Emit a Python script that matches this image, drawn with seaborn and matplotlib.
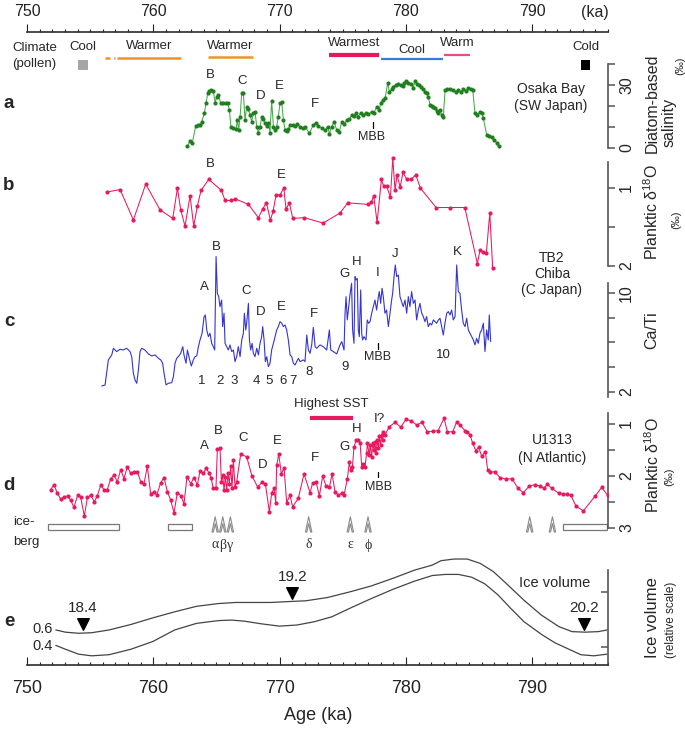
import numpy as np
import seaborn as sns
import matplotlib.pyplot as plt
from matplotlib.path import Path
from matplotlib.patches import Rectangle
from matplotlib.transforms import blended_transform_factory

sns.set_theme(style="white")
plt.rcParams['font.family'] = ['Liberation Sans', 'DejaVu Sans']
plt.rcParams['mathtext.default'] = 'regular'

# ---------------- data (ages in ka) ----------------
# climate from pollen
bar_names = ["Warmer", "Warmer", "Warmest", "Cool", "Warm"]
bar_start = [757.1, 764.3, 773.9, 778.0, 783.0]
bar_end = [762.2, 767.9, 777.9, 782.9, 785.1]
box_names = ["Cool", "Cold"]
box_start = [754.0, 793.9]
box_end = [754.8, 794.6]
lead_start, lead_end = 756.2, 757.0

# a: Osaka Bay diatom-based salinity (permil)
osaka_age = [762.70, 762.91, 763.09, 763.36, 763.57, 763.70, 763.83, 764.04, 764.17, 764.31,
             764.44, 764.57, 764.75, 764.89, 765.02, 765.15, 765.33, 765.55, 765.76, 765.89,
             766.02, 766.15, 766.34, 766.55, 766.65, 766.76, 766.87, 767.00, 767.13, 767.26,
             767.39, 767.53, 767.66, 767.79, 767.92, 768.05, 768.19, 768.32, 768.45, 768.58,
             768.71, 768.85, 768.98, 769.11, 769.24, 769.37, 769.51, 769.64, 769.77, 769.90,
             770.03, 770.16, 770.30, 770.43, 770.56, 770.69, 770.82, 771.04, 771.22, 771.41,
             771.62, 771.88, 772.01, 772.36, 772.67, 772.86, 773.07, 773.33, 773.60, 773.81,
             773.94, 774.12, 774.31, 774.52, 774.73, 774.92, 775.13, 775.31, 775.52, 775.71,
             775.89, 776.05, 776.23, 776.42, 776.63, 776.84, 777.03, 777.29, 777.48, 777.69,
             777.90, 778.00, 778.16, 778.35, 778.56, 778.69, 778.87, 779.01, 779.19, 779.40,
             779.59, 779.74, 779.88, 780.01, 780.19, 780.38, 780.59, 780.72, 780.85, 781.01,
             781.17, 781.33, 781.51, 781.65, 781.78, 781.91, 782.04, 782.17, 782.31, 782.44,
             782.57, 782.70, 782.83, 782.96, 783.10, 783.28, 783.49, 783.76, 783.97, 784.15,
             784.34, 784.55, 784.76, 784.94, 785.13, 785.29, 785.47, 785.66, 785.87, 786.03,
             786.13, 786.40, 786.61, 786.79, 786.98, 787.19, 787.35]
osaka_sal = [0.9, 3.3, 2.5, 10.6, 10.8, 10.9, 12.5, 16.5, 21.3, 26.0,
             27.3, 27.6, 27.3, 21.6, 24.4, 25.2, 21.6, 21.6, 21.6, 21.3,
             18.1, 10.2, 9.4, 8.9, 13.3, 8.6, 14.9, 26.0, 26.3, 13.3,
             19.7, 18.4, 15.7, 12.5, 16.5, 17.3, 10.2, 7.3, 10.2, 14.6,
             13.6, 11.7, 10.5, 11.7, 7.3, 22.5, 10.2, 8.6, 10.2, 14.9,
             21.3, 22.1, 13.3, 8.6, 8.2, 8.9, 11.0, 11.0, 10.5, 11.4,
             10.2, 9.4, 10.2, 7.0, 11.0, 12.1, 10.5, 9.4, 8.6, 10.2,
             6.7, 10.2, 12.5, 8.6, 7.8, 12.5, 11.4, 13.3, 13.6, 15.7,
             15.2, 16.5, 14.9, 16.8, 15.7, 16.5, 16.2, 17.3, 16.8, 19.7,
             18.1, 21.3, 22.9, 23.6, 31.1, 26.8, 27.9, 29.2, 30.0, 30.5,
             30.0, 29.7, 30.8, 32.1, 31.1, 30.5, 28.4, 32.1, 30.5, 30.0,
             29.2, 27.9, 26.8, 26.0, 24.4, 20.5, 20.0, 19.7, 18.9, 17.8,
             16.5, 18.1, 15.7, 14.6, 27.6, 27.9, 27.9, 27.6, 26.8, 27.6,
             26.5, 27.9, 27.3, 28.4, 27.9, 27.6, 16.5, 15.7, 17.3, 16.5,
             14.1, 6.2, 5.7, 5.1, 3.8, 2.5, 0.9]

# b: Osaka Bay planktic d18O (permil)
osb_age = [756.36, 757.37, 758.42, 759.40, 760.53, 761.54, 761.91, 762.17, 762.51, 762.91,
           763.20, 763.49, 763.78, 764.39, 765.39, 765.68, 766.16, 766.50, 767.53, 768.32,
           768.66, 768.95, 769.27, 769.48, 769.72, 770.03, 770.33, 770.51, 770.77, 771.04,
           771.96, 773.44, 774.79, 775.39, 777.00, 777.27, 777.45, 777.72, 778.06, 778.24,
           778.48, 778.77, 778.96, 779.14, 779.30, 779.54, 779.77, 780.06, 780.41, 780.78,
           781.14, 782.39, 783.52, 784.66, 785.66, 785.87, 786.13, 786.37, 786.64, 786.87]
osb_d18o = [1.05, 1.02, 1.41, 0.95, 1.28, 1.39, 1.00, 1.28, 1.49, 1.10,
            1.49, 1.23, 1.03, 0.89, 1.03, 1.16, 1.16, 1.14, 1.21, 1.38,
            1.27, 1.19, 1.41, 1.30, 1.09, 1.09, 1.00, 1.27, 1.19, 1.39,
            1.38, 1.45, 1.32, 1.19, 1.21, 1.18, 1.10, 1.44, 0.89, 0.98,
            0.98, 1.12, 0.62, 1.03, 0.83, 0.99, 0.80, 0.89, 0.89, 0.83,
            1.00, 1.25, 1.25, 1.25, 1.97, 1.79, 1.82, 1.83, 1.32, 2.03]

# c: TB2 Chiba Ca/Ti
chiba_age = [755.91, 756.18, 756.44, 756.71, 756.84, 757.10, 757.37, 757.63, 757.89, 758.16,
             758.29, 758.42, 758.55, 758.69, 758.82, 758.95, 759.08, 759.34, 759.61, 759.87,
             760.14, 760.40, 760.59, 760.74, 760.85, 761.01, 761.19, 761.46, 761.59, 761.72,
             761.85, 761.98, 762.17, 762.33, 762.43, 762.59, 762.70, 762.85, 763.01, 763.17,
             763.30, 763.44, 763.57, 763.70, 763.86, 764.02, 764.12, 764.23, 764.36, 764.49,
             764.62, 764.75, 764.86, 764.97, 765.07, 765.18, 765.28, 765.41, 765.49, 765.60,
             765.68, 765.81, 765.94, 766.07, 766.21, 766.34, 766.47, 766.60, 766.73, 766.87,
             767.00, 767.13, 767.21, 767.32, 767.39, 767.53, 767.61, 767.71, 767.82, 767.92,
             768.05, 768.19, 768.32, 768.45, 768.58, 768.66, 768.77, 768.87, 768.98, 769.11,
             769.24, 769.37, 769.51, 769.64, 769.77, 769.90, 770.03, 770.17, 770.30, 770.43,
             770.56, 770.69, 770.83, 770.96, 771.09, 771.22, 771.35, 771.49, 771.62, 771.88,
             772.01, 772.15, 772.28, 772.41, 772.54, 772.67, 772.81, 772.94, 773.20, 773.46,
             773.73, 773.94, 774.05, 774.26, 774.52, 774.78, 774.92, 775.10,
             775.18, 775.26, 775.36, 775.44, 775.57, 775.70, 775.78, 775.89, 775.97, 776.05,
             776.15, 776.23, 776.31, 776.42, 776.50, 776.57, 776.68, 776.84, 776.94, 777.05,
             777.16, 777.29, 777.42, 777.55, 777.68, 777.82, 777.89, 778.00, 778.11, 778.21,
             778.34, 778.47, 778.61, 778.74, 778.87, 778.95, 779.06, 779.16, 779.27, 779.40,
             779.53, 779.66, 779.79, 779.93, 780.06, 780.19, 780.32, 780.45, 780.59, 780.72,
             780.85, 780.98, 781.11, 781.25, 781.38, 781.51, 781.64, 781.77, 781.91, 782.04,
             782.17, 782.30, 782.43, 782.57, 782.70, 782.83, 782.96, 783.09, 783.23, 783.36,
             783.49, 783.62, 783.75, 783.89, 784.02, 784.15, 784.28, 784.41, 784.54, 784.68,
             784.81, 784.94, 785.07, 785.21, 785.34, 785.47, 785.60, 785.73, 785.86, 786.00,
             786.13, 786.26, 786.39, 786.52, 786.60, 786.71]
chiba_cati = [2.48, 2.56, 4.59, 4.99, 5.53, 5.26, 5.45, 5.39, 5.53, 5.26,
              4.85, 3.51, 2.97, 2.70, 3.78, 5.26, 5.53, 5.39, 5.07, 4.91,
              4.99, 4.72, 4.59, 4.32, 3.51, 2.57, 2.70, 2.75, 3.24, 4.32,
              4.72, 4.85, 5.12, 5.66, 4.99, 4.32, 5.39, 4.72, 4.10, 4.59,
              4.85, 4.91, 5.66, 6.20, 6.74, 8.09, 8.22, 7.01, 6.47, 6.74,
              5.93, 5.66, 5.39, 12.94, 9.97, 9.70, 8.89, 9.43, 7.28, 8.36,
              5.93, 5.66, 5.39, 5.80, 5.26, 5.39, 4.45, 4.85, 5.66, 4.85,
              6.20, 6.74, 8.36, 7.01, 7.55, 9.16, 6.20, 5.39, 5.93, 5.12,
              4.85, 5.53, 4.99, 5.93, 6.47, 7.28, 6.20, 4.45, 4.85, 4.05,
              4.32, 5.39, 5.93, 6.47, 7.01, 7.28, 7.68, 7.55, 7.28, 7.41,
              7.01, 6.20, 4.99, 4.85, 4.32, 4.18, 4.45, 4.72, 4.45, 4.59,
              4.45, 6.60, 5.39, 5.12, 5.80, 7.22, 5.66, 5.53, 5.80, 5.66,
              5.39, 7.01, 5.39, 5.26, 5.07, 5.80, 6.07, 5.39,
              8.36, 9.70, 7.82, 8.62, 9.84, 10.78, 7.01, 5.93, 11.32, 11.05,
              11.18, 7.01, 6.47, 10.24, 6.74, 6.20, 6.47, 6.20, 7.82, 7.55,
              7.68, 8.36, 8.89, 9.43, 8.62, 9.70, 10.11, 9.16, 10.38, 9.70,
              8.36, 8.62, 7.28, 8.36, 9.43, 9.97, 11.32, 12.26, 11.32, 11.45,
              9.70, 9.30, 8.89, 9.43, 8.36, 9.70, 8.89, 10.11, 9.16, 9.43,
              7.82, 8.62, 9.16, 8.36, 8.09, 7.68, 8.09, 7.28, 7.55, 7.41,
              7.82, 7.68, 7.55, 7.82, 7.95, 7.28, 6.60, 7.55, 8.36, 8.49,
              8.22, 8.62, 7.82, 8.09, 12.26, 10.11, 9.97, 8.62, 7.55, 7.28,
              7.95, 7.01, 6.74, 6.47, 6.20, 5.80, 6.33, 5.93, 6.74, 7.01,
              7.55, 5.26, 7.01, 6.20, 8.22, 6.07]

# d: IODP U1313 planktic d18O (permil)
u1313_age = [751.87, 752.14, 752.40, 752.69, 752.96, 753.22, 753.46, 753.72, 754.01, 754.25,
             754.54, 754.78, 755.04, 755.33, 755.57, 755.83, 756.10, 756.36, 756.62, 756.89,
             757.15, 757.42, 757.68, 757.94, 758.21, 758.47, 758.74, 759.00, 759.26, 759.53,
             759.79, 760.06, 760.27, 760.58, 760.85, 761.11, 761.37, 761.64, 761.90, 762.17,
             762.43, 762.67, 762.96, 763.22, 763.49, 763.70, 763.96, 764.17, 764.44, 764.57,
             764.75, 764.96, 765.07, 765.28, 765.39, 765.49, 765.60, 765.70, 765.81, 765.91,
             766.02, 766.13, 766.23, 766.34, 766.47, 766.60, 766.92, 767.39, 767.81, 768.26,
             768.61, 768.87, 769.19, 769.37, 769.56, 769.69, 769.77, 769.93, 770.14, 770.35,
             770.56, 770.82, 771.03, 771.48, 771.93, 772.41, 772.62, 772.88, 773.15, 773.41,
             773.67, 773.94, 774.15, 774.39, 774.65, 774.91, 775.10, 775.36, 775.52,
             775.63, 775.76, 775.89, 776.05, 776.23, 776.37, 776.50, 776.63, 776.76, 776.89,
             776.95, 777.10, 777.16, 777.29, 777.37, 777.47, 777.55, 777.63, 777.74, 777.82,
             777.90, 778.00, 778.08, 778.16, 778.21, 778.34, 778.69, 779.14, 779.59, 780.01,
             780.43, 780.85, 781.27, 781.70, 782.12, 782.54, 783.02, 783.28, 783.70, 784.02,
             784.28, 784.68, 784.86, 785.07, 785.29, 785.52, 785.76, 786.00, 786.29, 786.47,
             786.66, 787.03, 787.45, 787.92, 788.40, 788.88, 789.30, 789.77, 790.19, 790.62,
             790.93, 791.20, 791.57, 792.09, 792.41, 792.78, 793.05, 793.47, 794.05, 795.00,
             795.50, 795.97]
u1313_d18o = [2.26, 2.17, 2.33, 2.45, 2.40, 2.38, 2.47, 2.60, 2.37, 2.41,
              2.77, 2.41, 2.37, 2.49, 2.38, 2.18, 2.26, 2.26, 2.06, 1.98,
              2.11, 1.88, 2.05, 1.82, 1.95, 1.92, 1.92, 2.11, 2.15, 1.81,
              2.35, 2.30, 2.37, 2.13, 2.03, 2.30, 2.46, 2.71, 2.32, 2.38,
              2.53, 2.01, 2.15, 2.03, 2.17, 1.90, 1.95, 1.85, 1.95, 2.03,
              2.24, 2.24, 1.49, 1.46, 2.11, 1.98, 2.27, 2.01, 2.27, 1.95,
              2.15, 1.81, 2.24, 1.69, 2.22, 2.11, 1.58, 1.63, 2.00, 2.21,
              2.12, 2.15, 2.69, 2.33, 2.24, 2.51, 1.79, 1.58, 1.96, 1.84,
              2.51, 2.37, 2.59, 2.43, 1.96, 2.32, 2.13, 2.11, 2.38, 2.00,
              2.19, 2.22, 1.96, 2.30, 2.37, 2.33, 2.37, 2.06, 1.74,
              1.88, 1.83, 1.45, 1.31, 1.30, 1.36, 1.82, 1.76, 1.82, 1.56,
              1.37, 1.60, 1.40, 1.63, 1.36, 1.50, 1.34, 1.56, 1.30, 1.47,
              1.24, 1.40, 1.21, 1.31, 1.15, 1.21, 1.05, 0.97, 1.06, 0.91,
              0.94, 1.02, 0.97, 1.15, 1.14, 1.13, 0.89, 1.15, 1.15, 0.96,
              1.02, 1.13, 1.15, 1.21, 1.37, 1.51, 1.45, 1.62, 1.53, 1.88,
              1.92, 1.92, 2.03, 2.06, 2.05, 2.24, 2.32, 2.19, 2.17, 2.19,
              2.24, 2.16, 2.24, 2.33, 2.35, 2.35, 2.37, 2.58, 2.67, 2.38,
              2.22, 2.37]
sst_start, sst_end = 772.4, 775.8

# ice-rafting events and intervals
iceberg_age = [764.9, 765.5, 766.1, 772.3, 775.6, 777.0, 789.8, 791.6]
iceberg_name = ["α", "β", "γ", "δ", "ε", "ϕ", "", ""]
berg_start = [751.7, 761.2, 792.4]
berg_end = [757.3, 763.1, 795.9]

# e: ice volume (relative scale), two curves
ice_age_hi = [752.28, 753.04, 754.08, 755.12, 756.50, 758.23, 759.96, 761.69, 763.42, 765.15,
              766.53, 767.91, 769.29, 771.02, 772.06, 773.79, 775.52, 777.25, 778.98, 780.71,
              782.09, 782.78, 783.82, 784.85, 785.89, 786.93, 787.97, 789.35, 790.73, 792.12,
              793.15, 794.19, 795.23, 795.92]
ice_hi = [0.31, 0.27, 0.25, 0.26, 0.31, 0.41, 0.53, 0.64, 0.74, 0.79,
          0.81, 0.81, 0.81, 0.83, 0.84, 0.90, 1.00, 1.11, 1.25, 1.40,
          1.49, 1.57, 1.60, 1.60, 1.52, 1.37, 1.15, 0.85, 0.58, 0.37,
          0.28, 0.27, 0.28, 0.31]
ice_age_lo = [752.28, 753.04, 754.08, 755.12, 756.50, 758.23, 759.96, 761.69, 763.42, 765.15,
              766.18, 767.22, 768.60, 769.99, 771.37, 772.75, 774.14, 775.52, 777.25, 778.98,
              780.71, 782.09, 783.13, 784.16, 785.20, 786.24, 787.28, 788.31, 789.35, 790.73,
              791.77, 792.81, 793.85, 794.88, 795.92]
ice_lo = [0.03, -0.04, -0.13, -0.16, -0.14, -0.04, 0.10, 0.31, 0.43, 0.48,
          0.49, 0.47, 0.42, 0.38, 0.40, 0.46, 0.55, 0.70, 0.88, 1.05,
          1.20, 1.30, 1.32, 1.32, 1.27, 1.15, 0.95, 0.70, 0.46, 0.23,
          0.08, -0.03, -0.14, -0.16, -0.13]
insol_age = [754.4, 771.0, 794.1]
insol_level = [0.41, 0.98, 0.41]
insol_label = ["18.4", "19.2", "20.2"]

# ---------------- layout ----------------
W, H = 685, 730
X0, X1 = 27, 608          # pixel span of 750-796 ka
GREEN, GREEN_L = "#1f7f1f", "#4aa84a"
PINK = "#e8195e"
BLUE = "#3434d0"
SPINE = "#555555"

fig = plt.figure(figsize=(W / 100, H / 100), dpi=100)


def panel(top, bottom, ylim):
    ax = fig.add_axes([X0 / W, 1 - bottom / H, (X1 - X0) / W, (bottom - top) / H])
    ax.set_facecolor("none")
    for s in ax.spines.values():
        s.set_visible(False)
    ax.set_xlim(750, 796)
    ax.set_ylim(*ylim)
    ax.set_xticks([])
    ax.grid(False)
    return ax


def right_axis(ax, lo, hi, ticks, labels, direction="out"):
    sp = ax.spines["right"]
    sp.set_visible(True)
    sp.set_bounds(lo, hi)
    sp.set_color(SPINE)
    sp.set_linewidth(1.2)
    ax.yaxis.tick_right()
    ax.set_yticks(ticks)
    ax.set_yticklabels(labels, rotation=90, va="center", fontsize=11.5)
    ax.tick_params(axis="y", direction=direction, length=5, width=1.1, color=SPINE,
                   pad=3, right=True, left=False)
    ax.set_ylabel("")
    ax.set_xlabel("")


def dotted_series(ax, x, y, line, dot, size=9):
    sns.lineplot(x=x, y=y, ax=ax, color=line, lw=0.75, sort=False, estimator=None)
    sns.scatterplot(x=x, y=y, ax=ax, color=dot, s=size, linewidth=0, zorder=3)


# top age axis + climate row
axt = panel(32, 78, (0, 1))
axt.spines["top"].set_visible(True)
axt.spines["top"].set_color("#333333")
axt.xaxis.tick_top()
axt.set_xticks(np.arange(750, 791, 10))
axt.set_xticks(np.arange(750, 797, 1), minor=True)
axt.tick_params(axis="x", which="major", direction="out", length=6, width=0.8,
                labelsize=11.5, pad=3, top=True, bottom=False, colors="#222222")
axt.tick_params(axis="x", which="minor", direction="out", length=2.5, width=0.8,
                top=True, bottom=False, color="#222222")
axt.set_yticks([])
bar_style = [("#f0922b", 0.435, 1.8), ("#f0922b", 0.457, 1.8), ("#e5195e", 0.50, 3.0),
             ("#3a7bd5", 0.413, 1.6), ("#ea4c8a", 0.50, 1.6)]
label_y = [0.70, 0.70, 0.75, 0.61, 0.75]
for name, s, e, (c, yy, lw), ly in zip(bar_names, bar_start, bar_end, bar_style, label_y):
    axt.plot([s, e], [yy, yy], color=c, lw=lw, solid_capstyle="butt")
    axt.text((s + e) / 2, ly, name, ha="center", va="center", fontsize=9.5)
axt.plot([lead_start, lead_end], [0.435, 0.435], color="#f0922b", lw=1.8, ls=(0, (2, 1.5)))
for name, s, e, c in zip(box_names, box_start, box_end, ["#a6a6a6", "black"]):
    axt.add_patch(Rectangle((s, 0.17), e - s, 0.22, color=c, lw=0))
    axt.text((s + e) / 2, 0.675, name, ha="center", va="center", fontsize=9.5)

# a
axa = panel(60, 152, (-1.9, 41.9))
dotted_series(axa, osaka_age, osaka_sal, GREEN_L, GREEN)
right_axis(axa, 0, 40, [0, 10, 20, 30, 40], ["0", "", "", "30", ""])

# b
axb = panel(150, 275, (2.115, 0.513))
dotted_series(axb, osb_age, osb_d18o, PINK, PINK)
right_axis(axb, 0.667, 2.0, [1, 1.5, 2], ["1", "", "2"])

# c
axc = panel(225, 400, (1.35, 15.49))
sns.lineplot(x=chiba_age, y=chiba_cati, ax=axc, color=BLUE, lw=0.8, sort=False, estimator=None)
right_axis(axc, 1.6, 10.8, [2, 4, 6, 8, 10], ["2", "", "", "", "10"])

# d
axd = panel(360, 540, (3.23, -0.23))
dotted_series(axd, u1313_age, u1313_d18o, PINK, PINK)
right_axis(axd, 0.79, 3.0, [1, 1.5, 2, 2.5, 3], ["1", "", "2", "", "3"])
axd.plot([sst_start, sst_end], [0.885, 0.885], color="#e5195e", lw=3, solid_capstyle="butt")
for s, e in zip(berg_start, berg_end):
    axd.add_patch(Rectangle((s, 2.92), e - s, 0.12, fill=False, ec="#777777", lw=0.9))
berg_marker = Path([(-0.42, -1), (0, 1), (0.42, -1), (0.24, -1), (0, 0.1), (-0.24, -1), (-0.42, -1)],
                   [Path.MOVETO] + [Path.LINETO] * 5 + [Path.CLOSEPOLY])
axd.scatter(iceberg_age, [2.93] * len(iceberg_age), marker=berg_marker, s=120,
            facecolors="none", edgecolors="#8a8a8a", linewidths=0.8, zorder=3)

# e + bottom age axis
axe = panel(545, 665, (-0.327, 1.855))
sns.lineplot(x=ice_age_hi, y=ice_hi, ax=axe, color="#444444", lw=0.9, sort=False, estimator=None)
sns.lineplot(x=ice_age_lo, y=ice_lo, ax=axe, color="#444444", lw=0.9, sort=False, estimator=None)
axe.scatter(insol_age, insol_level, marker="v", s=70, color="black", zorder=3)
for a, lv, lab in zip(insol_age, insol_level, insol_label):
    axe.text(a, lv + 0.3, lab, ha="center", va="center", fontsize=11)
axe.text(791.8, 1.16, "Ice volume", ha="center", va="center", fontsize=10.5)
right_axis(axe, -0.327, 1.4, [0, 1], ["", ""], direction="in")
axe.spines["bottom"].set_visible(True)
axe.spines["bottom"].set_color("#333333")
axe.set_xticks(np.arange(750, 791, 10))
axe.set_xticks(np.arange(750, 797, 1), minor=True)
axe.tick_params(axis="x", which="major", direction="in", length=6, width=0.8,
                labelsize=13, pad=11, bottom=True, colors="#222222")
axe.tick_params(axis="x", which="minor", direction="in", length=2.5, width=0.8,
                bottom=True, color="#222222")
axe.set_xlabel("")

# ---------------- annotations (pixel overlay) ----------------
ov = fig.add_axes([0, 0, 1, 1])
ov.set_xlim(0, W)
ov.set_ylim(H, 0)
ov.set_facecolor("none")
ov.axis("off")


def t(x, y, s, size=9.5, **kw):
    kw.setdefault("ha", "center")
    kw.setdefault("va", "center")
    ov.text(x, y, s, fontsize=size, **kw)


def tick(x, y0, y1):
    ov.plot([x, x], [y0, y1], color="black", lw=0.9)


t(595, 12, "(ka)", 11.5)
t(12, 48, "Climate", 9.5, ha="left")
t(12, 64, "(pollen)", 9.5, ha="left")
t(318, 716, "Age (ka)", 13)

for lab, y in zip("abcde", [103, 185, 322, 486, 622]):
    t(9, y, lab, 13.5, fontweight="bold")

# a
for lab, x, y in [("B", 210, 75), ("C", 242, 81), ("D", 261, 96), ("E", 279, 86), ("F", 315, 104)]:
    t(x, y, lab)
tick(372.7, 122, 128)
t(372, 137, "MBB", 9)
t(551, 89, "Osaka Bay", 10)
t(551, 106, "(SW Japan)", 10)

# b
t(210, 164, "B")
t(281, 175, "E")

# c
for lab, x, y in [("A", 204, 287), ("B", 216, 247), ("C", 246, 291), ("D", 261, 312), ("E", 281, 307),
                  ("F", 314, 314), ("G", 345, 274), ("H", 357, 262), ("I", 378, 273), ("J", 395, 254),
                  ("K", 457, 252)]:
    t(x, y, lab)
for lab, x, y in [("1", 202, 381), ("2", 220, 381), ("3", 234, 381), ("4", 256, 381), ("5", 269, 381),
                  ("6", 283, 381), ("7", 293, 381), ("8", 309, 372), ("9", 345, 367), ("10", 443, 355)]:
    t(x, y, lab)
tick(378, 343, 349)
t(378, 357, "MBB", 9)
t(552, 258, "TB2", 10)
t(552, 274, "Chiba", 10)
t(552, 290, "(C Japan)", 10)

# d
for lab, x, y in [("A", 204, 446), ("B", 218, 431), ("C", 243, 438), ("D", 263, 465), ("E", 277, 441),
                  ("F", 315, 458), ("G", 345, 447), ("H", 357, 429), ("I?", 379, 419)]:
    t(x, y, lab)
tick(378, 472, 477)
t(379, 487, "MBB", 9)
t(331, 404, "Highest SST", 9.5)
t(552, 440, "U1313", 10)
t(552, 458, "(N Atlantic)", 10)
t(13, 522, "ice-", 9.5, ha="left")
t(13, 542, "berg", 9.5, ha="left")
bx = blended_transform_factory(axd.transData, ov.transData)
for a, nm in zip(iceberg_age, iceberg_name):
    ov.text(a, 545, nm, transform=bx, ha="center", va="center", fontsize=10,
            family=["Liberation Serif", "DejaVu Serif"], color="#333333")

# e
t(53, 629, "0.6", 10.5, ha="right")
t(53, 646, "0.4", 10.5, ha="right")

# right-hand axis titles
t(652, 103, "Diatom-based", 11.5, rotation=90)
t(669, 122, "salinity", 11.5, rotation=90)
t(680, 66, "(‰)", 8, rotation=90)
t(652, 212, r"Planktic $\delta^{18}$O", 11.5, rotation=90)
t(676, 220, "(‰)", 8, rotation=90)
t(652, 330, "Ca/Ti", 11.5, rotation=90)
t(653, 465, r"Planktic $\delta^{18}$O", 11.5, rotation=90)
t(669, 477, "(‰)", 8, rotation=90)
t(653, 618, "Ice volume", 12, rotation=90)
t(671, 620, "(relative scale)", 8.5, rotation=90)

fig.savefig("out.png", dpi=100)
